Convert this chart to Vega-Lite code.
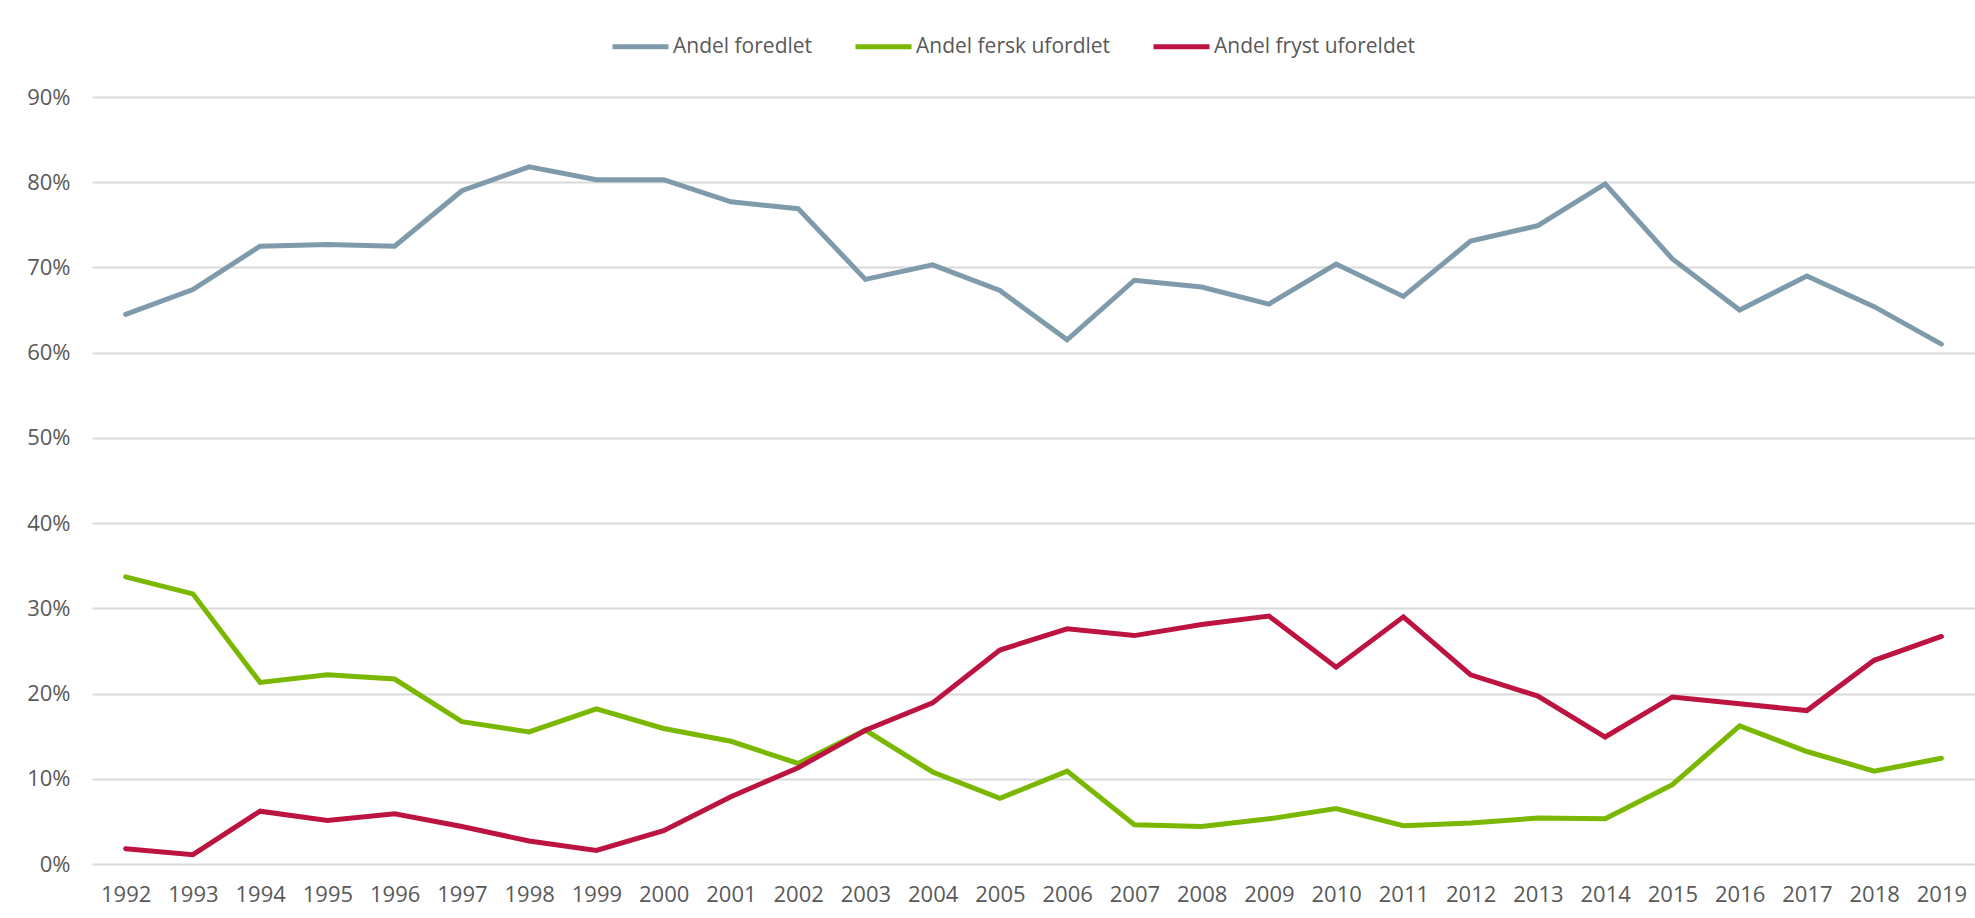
{
  "$schema": "https://vega.github.io/schema/vega-lite/v6.json",
  "width": 1883,
  "height": 767,
  "autosize": {"type": "none"},
  "padding": {"left": 92, "top": 97, "right": 0, "bottom": 54},
  "background": "#ffffff",
  "config": {
    "view": {"stroke": null},
    "font": "Open Sans",
    "axis": {"labelFont": "Open Sans", "labelColor": "#595959", "labelFontSize": 22, "ticks": false, "domain": false, "title": null}
  },
  "data": {
    "values": [
      {"year": "1992", "serie": "Andel foredlet", "v": 0.645},
      {"year": "1993", "serie": "Andel foredlet", "v": 0.674},
      {"year": "1994", "serie": "Andel foredlet", "v": 0.725},
      {"year": "1995", "serie": "Andel foredlet", "v": 0.727},
      {"year": "1996", "serie": "Andel foredlet", "v": 0.725},
      {"year": "1997", "serie": "Andel foredlet", "v": 0.790},
      {"year": "1998", "serie": "Andel foredlet", "v": 0.818},
      {"year": "1999", "serie": "Andel foredlet", "v": 0.803},
      {"year": "2000", "serie": "Andel foredlet", "v": 0.803},
      {"year": "2001", "serie": "Andel foredlet", "v": 0.777},
      {"year": "2002", "serie": "Andel foredlet", "v": 0.769},
      {"year": "2003", "serie": "Andel foredlet", "v": 0.686},
      {"year": "2004", "serie": "Andel foredlet", "v": 0.703},
      {"year": "2005", "serie": "Andel foredlet", "v": 0.673},
      {"year": "2006", "serie": "Andel foredlet", "v": 0.615},
      {"year": "2007", "serie": "Andel foredlet", "v": 0.685},
      {"year": "2008", "serie": "Andel foredlet", "v": 0.677},
      {"year": "2009", "serie": "Andel foredlet", "v": 0.657},
      {"year": "2010", "serie": "Andel foredlet", "v": 0.704},
      {"year": "2011", "serie": "Andel foredlet", "v": 0.666},
      {"year": "2012", "serie": "Andel foredlet", "v": 0.731},
      {"year": "2013", "serie": "Andel foredlet", "v": 0.749},
      {"year": "2014", "serie": "Andel foredlet", "v": 0.798},
      {"year": "2015", "serie": "Andel foredlet", "v": 0.710},
      {"year": "2016", "serie": "Andel foredlet", "v": 0.650},
      {"year": "2017", "serie": "Andel foredlet", "v": 0.690},
      {"year": "2018", "serie": "Andel foredlet", "v": 0.654},
      {"year": "2019", "serie": "Andel foredlet", "v": 0.610},
      {"year": "1992", "serie": "Andel fersk ufordlet", "v": 0.337},
      {"year": "1993", "serie": "Andel fersk ufordlet", "v": 0.317},
      {"year": "1994", "serie": "Andel fersk ufordlet", "v": 0.213},
      {"year": "1995", "serie": "Andel fersk ufordlet", "v": 0.222},
      {"year": "1996", "serie": "Andel fersk ufordlet", "v": 0.217},
      {"year": "1997", "serie": "Andel fersk ufordlet", "v": 0.167},
      {"year": "1998", "serie": "Andel fersk ufordlet", "v": 0.155},
      {"year": "1999", "serie": "Andel fersk ufordlet", "v": 0.182},
      {"year": "2000", "serie": "Andel fersk ufordlet", "v": 0.159},
      {"year": "2001", "serie": "Andel fersk ufordlet", "v": 0.144},
      {"year": "2002", "serie": "Andel fersk ufordlet", "v": 0.118},
      {"year": "2003", "serie": "Andel fersk ufordlet", "v": 0.157},
      {"year": "2004", "serie": "Andel fersk ufordlet", "v": 0.108},
      {"year": "2005", "serie": "Andel fersk ufordlet", "v": 0.077},
      {"year": "2006", "serie": "Andel fersk ufordlet", "v": 0.109},
      {"year": "2007", "serie": "Andel fersk ufordlet", "v": 0.046},
      {"year": "2008", "serie": "Andel fersk ufordlet", "v": 0.044},
      {"year": "2009", "serie": "Andel fersk ufordlet", "v": 0.053},
      {"year": "2010", "serie": "Andel fersk ufordlet", "v": 0.065},
      {"year": "2011", "serie": "Andel fersk ufordlet", "v": 0.045},
      {"year": "2012", "serie": "Andel fersk ufordlet", "v": 0.048},
      {"year": "2013", "serie": "Andel fersk ufordlet", "v": 0.054},
      {"year": "2014", "serie": "Andel fersk ufordlet", "v": 0.053},
      {"year": "2015", "serie": "Andel fersk ufordlet", "v": 0.093},
      {"year": "2016", "serie": "Andel fersk ufordlet", "v": 0.162},
      {"year": "2017", "serie": "Andel fersk ufordlet", "v": 0.132},
      {"year": "2018", "serie": "Andel fersk ufordlet", "v": 0.109},
      {"year": "2019", "serie": "Andel fersk ufordlet", "v": 0.124},
      {"year": "1992", "serie": "Andel fryst uforeldet", "v": 0.018},
      {"year": "1993", "serie": "Andel fryst uforeldet", "v": 0.011},
      {"year": "1994", "serie": "Andel fryst uforeldet", "v": 0.062},
      {"year": "1995", "serie": "Andel fryst uforeldet", "v": 0.051},
      {"year": "1996", "serie": "Andel fryst uforeldet", "v": 0.059},
      {"year": "1997", "serie": "Andel fryst uforeldet", "v": 0.044},
      {"year": "1998", "serie": "Andel fryst uforeldet", "v": 0.027},
      {"year": "1999", "serie": "Andel fryst uforeldet", "v": 0.016},
      {"year": "2000", "serie": "Andel fryst uforeldet", "v": 0.039},
      {"year": "2001", "serie": "Andel fryst uforeldet", "v": 0.079},
      {"year": "2002", "serie": "Andel fryst uforeldet", "v": 0.113},
      {"year": "2003", "serie": "Andel fryst uforeldet", "v": 0.157},
      {"year": "2004", "serie": "Andel fryst uforeldet", "v": 0.189},
      {"year": "2005", "serie": "Andel fryst uforeldet", "v": 0.251},
      {"year": "2006", "serie": "Andel fryst uforeldet", "v": 0.276},
      {"year": "2007", "serie": "Andel fryst uforeldet", "v": 0.268},
      {"year": "2008", "serie": "Andel fryst uforeldet", "v": 0.281},
      {"year": "2009", "serie": "Andel fryst uforeldet", "v": 0.291},
      {"year": "2010", "serie": "Andel fryst uforeldet", "v": 0.231},
      {"year": "2011", "serie": "Andel fryst uforeldet", "v": 0.290},
      {"year": "2012", "serie": "Andel fryst uforeldet", "v": 0.222},
      {"year": "2013", "serie": "Andel fryst uforeldet", "v": 0.197},
      {"year": "2014", "serie": "Andel fryst uforeldet", "v": 0.149},
      {"year": "2015", "serie": "Andel fryst uforeldet", "v": 0.196},
      {"year": "2016", "serie": "Andel fryst uforeldet", "v": 0.188},
      {"year": "2017", "serie": "Andel fryst uforeldet", "v": 0.180},
      {"year": "2018", "serie": "Andel fryst uforeldet", "v": 0.239},
      {"year": "2019", "serie": "Andel fryst uforeldet", "v": 0.267}
    ]
  },
  "mark": {"type": "line", "strokeWidth": 5, "strokeCap": "round", "strokeJoin": "miter"},
  "encoding": {
    "x": {
      "field": "year", "type": "ordinal",
      "scale": {"type": "point", "padding": 0.5},
      "axis": {"labelAngle": 0, "labelPadding": 20, "grid": false}
    },
    "y": {
      "field": "v", "type": "quantitative",
      "scale": {"domain": [0, 0.9], "nice": false},
      "axis": {"format": ".0%", "values": [0, 0.1, 0.2, 0.3, 0.4, 0.5, 0.6, 0.7, 0.8, 0.9], "grid": true, "gridColor": "#d9d9d9", "gridWidth": 2, "labelPadding": 22}
    },
    "color": {
      "field": "serie", "type": "nominal",
      "sort": ["Andel foredlet", "Andel fersk ufordlet", "Andel fryst uforeldet"],
      "scale": {"domain": ["Andel foredlet", "Andel fersk ufordlet", "Andel fryst uforeldet"], "range": ["#7f9bab", "#7ab800", "#bd1340"]},
      "legend": {
        "title": null, "orient": "none", "direction": "horizontal",
        "legendX": 518, "legendY": -81,
        "symbolType": "stroke", "symbolSize": 3136, "symbolStrokeWidth": 5,
        "labelFont": "Open Sans", "labelFontSize": 21, "labelColor": "#595959",
        "labelOffset": 2, "columnPadding": 32, "labelLimit": 400
      }
    }
  }
}
